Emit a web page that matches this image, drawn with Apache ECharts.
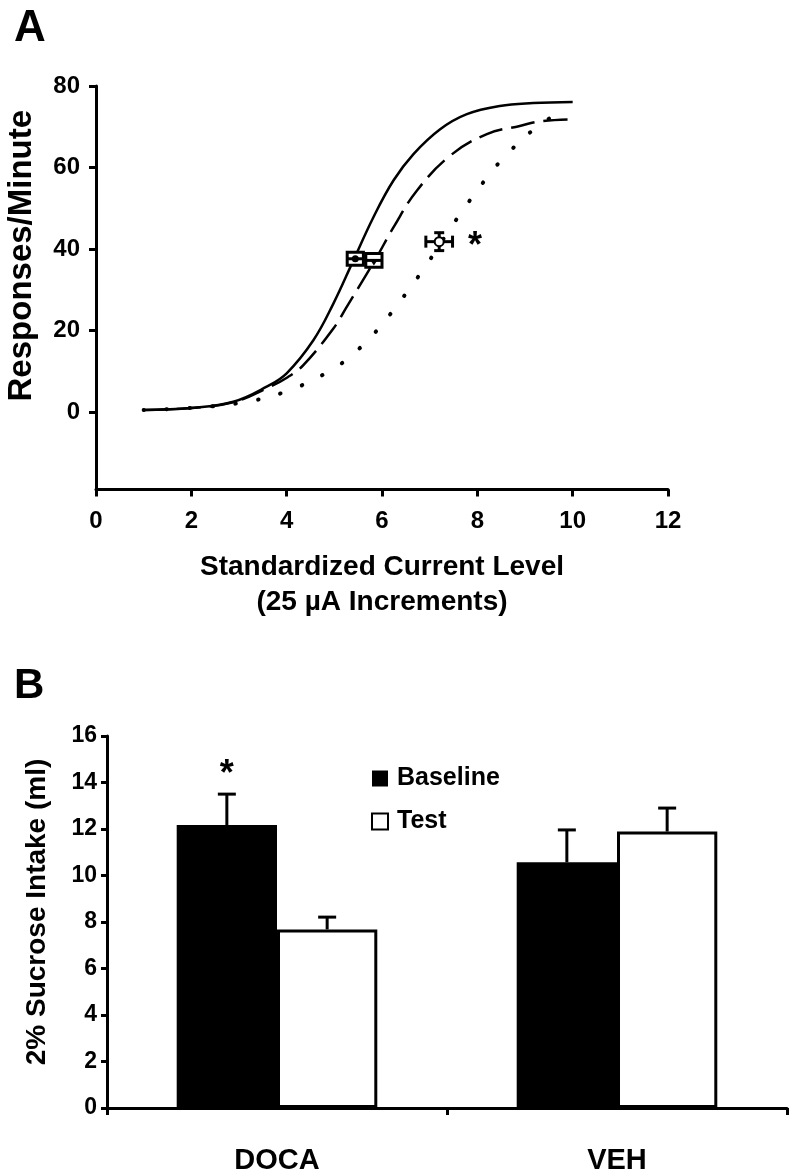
<!DOCTYPE html>
<html><head><meta charset="utf-8">
<script src="https://cdn.jsdelivr.net/npm/echarts@6/dist/echarts.min.js"></script>
<style>html,body{margin:0;padding:0;background:#fff}#c{width:800px;height:1176px}</style>
</head><body><div id="c"></div>
<script>
// ---------- Panel A data ----------
const xTicksA = [0, 2, 4, 6, 8, 10, 12];
const yTicksA = [0, 20, 40, 60, 80];
const solidX = [1, 2, 2.88, 3.58, 4.0, 4.56, 4.98, 5.40, 5.82, 6.24, 6.66, 7.22, 7.78, 8.47, 9.17, 10];
const solidY = [0.5, 1.0, 2.5, 6.2, 9.5, 17.6, 26.6, 37.2, 47.8, 56.8, 63.3, 69.4, 73.1, 75.1, 75.8, 76.1];
const dashX = [1, 2, 2.88, 3.58, 4.03, 4.35, 4.98, 5.26, 5.68, 5.89, 6.24, 6.73, 7.43, 8.20, 8.89, 9.31, 10];
const dashY = [0.5, 1.0, 2.4, 5.8, 8.6, 11.5, 20.5, 25.8, 33.9, 38.0, 45.3, 54.3, 62.9, 68.2, 70.2, 71.3, 71.8];
const dotX = [1, 1.97, 2.95, 3.91, 4.87, 5.36, 5.83, 6.24, 6.59, 6.94, 7.57, 8.28, 8.71, 9.19, 9.68];
const dotY = [0.5, 1.0, 2.1, 4.7, 9.8, 13.9, 19.2, 25.0, 30.5, 36.2, 47.4, 58.7, 64.3, 69.4, 73.3];
const markX = [5.44, 5.83, 7.20];
const markY = [37.6, 37.2, 41.8];
const markXErr = [0.17, 0.17, 0.28];
const markYErr = [1.6, 1.7, 2.2];
const markKind = [0, 1, 2]; // 0 filled circle, 1 filled triangle, 2 open circle
const starAX = [7.95];
const starAY = [40.5];

// ---------- Panel B data ----------
const groups = ['DOCA', 'VEH'];
const baseline = [12.17, 10.57];
const baselineErr = [1.33, 1.39];
const test = [7.68, 11.89];
const testErr = [0.53, 1.01];
const yTicksB = [0, 2, 4, 6, 8, 10, 12, 14, 16];
const starBCat = [0];
const starBY = [14.3];

const FONT = 'Liberation Sans, Arial, sans-serif';
const pairs = (xs, ys) => xs.map((x, i) => [x, ys[i]]);
const BAR_GAP = 0.41;

const chart = echarts.init(document.getElementById('c'), null, {renderer: 'canvas'});
const axisLine = {onZero: false, lineStyle: {color: '#000', width: 3}};

const option = {
  backgroundColor: '#fff',
  animation: false,
  textStyle: {fontFamily: FONT, color: '#000'},
  title: [
    {text: 'A', left: 9, top: 2, textStyle: {fontSize: 44, fontWeight: 'bold', color: '#000', fontFamily: FONT}},
    {text: 'B', left: 9, top: 660, textStyle: {fontSize: 42, fontWeight: 'bold', color: '#000', fontFamily: FONT}}
  ],
  legend: {
    data: ['Baseline', 'Test'],
    orient: 'vertical', left: 366, top: 761,
    itemWidth: 16, itemHeight: 16, itemGap: 18,
    icon: 'rect',
    textStyle: {fontSize: 25, fontWeight: 'bold', color: '#000', fontFamily: FONT, lineHeight: 25, padding: [0, 0, 0, 4]}
  },
  grid: [
    {left: 96, right: 132, top: 86, bottom: 1176 - 489.4, containLabel: false, outerBoundsMode: 'none'},
    {left: 107, right: 13, top: 736, bottom: 68, containLabel: false, outerBoundsMode: 'none'}
  ],
  xAxis: [
    {
      gridIndex: 0, type: 'value', min: 0, max: 12, interval: 2,
      axisLine: axisLine, splitLine: {show: false},
      axisTick: {show: true, length: 7, lineStyle: {width: 3, color: '#000'}},
      axisLabel: {fontSize: 24, fontWeight: 'bold', color: '#000', margin: 20, fontFamily: FONT},
      name: 'Standardized Current Level\n(25 µA Increments)',
      nameLocation: 'middle', nameGap: 60,
      nameTextStyle: {fontSize: 28, fontWeight: 'bold', color: '#000', lineHeight: 35, fontFamily: FONT}
    },
    {
      gridIndex: 1, type: 'category', data: groups,
      axisLine: axisLine,
      axisTick: {show: true, alignWithLabel: false, length: 7, lineStyle: {width: 3, color: '#000'}},
      axisLabel: {fontSize: 29, fontWeight: 'bold', color: '#000', margin: 38, fontFamily: FONT}
    }
  ],
  yAxis: [
    {
      gridIndex: 0, type: 'value', min: -19, max: 80,
      axisLine: {show: true, onZero: false, lineStyle: {color: '#000', width: 3}}, splitLine: {show: false},
      axisTick: {show: true, length: 7, customValues: yTicksA, lineStyle: {width: 3, color: '#000'}},
      axisLabel: {customValues: yTicksA, fontSize: 24, fontWeight: 'bold', color: '#000', margin: 16, fontFamily: FONT},
      name: 'Responses/Minute', nameLocation: 'middle', nameRotate: 90, nameGap: 58,
      nameTextStyle: {fontSize: 33, fontWeight: 'bold', color: '#000', fontFamily: FONT, padding: [0, 0, 0, 64]}
    },
    {
      gridIndex: 1, type: 'value', min: 0, max: 16, interval: 2,
      axisLine: {show: true, onZero: false, lineStyle: {color: '#000', width: 3}}, splitLine: {show: false},
      axisTick: {show: true, length: 6, lineStyle: {width: 3, color: '#000'}},
      axisLabel: {fontSize: 23, fontWeight: 'bold', color: '#000', margin: 10, fontFamily: FONT},
      name: '2% Sucrose Intake (ml)', nameLocation: 'middle', nameRotate: 90, nameGap: 56,
      nameTextStyle: {fontSize: 28, fontWeight: 'bold', color: '#000', fontFamily: FONT, padding: [0, 0, 0, 20]}
    }
  ],
  series: [
    {
      type: 'line', xAxisIndex: 0, yAxisIndex: 0, data: pairs(solidX, solidY),
      showSymbol: false, smooth: 0.4,
      lineStyle: {color: '#000', width: 2.5}
    },
    {
      type: 'line', xAxisIndex: 0, yAxisIndex: 0, data: pairs(dashX, dashY),
      showSymbol: false, smooth: 0.4,
      lineStyle: {color: '#000', width: 2.5, type: [24, 9]}
    },
    {
      type: 'line', xAxisIndex: 0, yAxisIndex: 0, data: pairs(dotX, dotY),
      showSymbol: false, smooth: 0.4,
      lineStyle: {color: '#000', width: 4, type: [0.5, 22.5], cap: 'round'}
    },
    {
      type: 'custom', xAxisIndex: 0, yAxisIndex: 0, z: 10,
      data: markX.map((x, i) => [x, markY[i], markXErr[i], markYErr[i], markKind[i]]),
      renderItem: function (params, api) {
        const x = api.value(0), y = api.value(1), xe = api.value(2), ye = api.value(3), k = api.value(4);
        const c = api.coord([x, y]);
        const l = api.coord([x - xe, y])[0], r = api.coord([x + xe, y])[0];
        const t = api.coord([x, y + ye])[1], b = api.coord([x, y - ye])[1];
        const st = {stroke: '#000', lineWidth: 3, fill: null};
        const ch = [];
        if (k < 2) {
          ch.push({type: 'rect', shape: {x: l, y: t, width: r - l, height: b - t}, style: {stroke: '#000', lineWidth: 3, fill: '#fff'}});
          ch.push({type: 'line', shape: {x1: l, y1: c[1], x2: r, y2: c[1]}, style: st});
          if (k === 0) {
            ch.push({type: 'circle', shape: {cx: c[0], cy: c[1], r: 3.5}, style: {fill: '#000'}});
          } else {
            ch.push({type: 'polygon', shape: {points: [[c[0] - 4, c[1] - 1], [c[0] + 4, c[1] - 1], [c[0], c[1] + 5]]}, style: {fill: '#000'}});
          }
        } else {
          ch.push({type: 'line', shape: {x1: l, y1: c[1], x2: r, y2: c[1]}, style: st});
          ch.push({type: 'line', shape: {x1: l, y1: c[1] - 6, x2: l, y2: c[1] + 6}, style: st});
          ch.push({type: 'line', shape: {x1: r, y1: c[1] - 6, x2: r, y2: c[1] + 6}, style: st});
          ch.push({type: 'line', shape: {x1: c[0], y1: t, x2: c[0], y2: b}, style: st});
          ch.push({type: 'line', shape: {x1: c[0] - 5, y1: t, x2: c[0] + 5, y2: t}, style: st});
          ch.push({type: 'line', shape: {x1: c[0] - 5, y1: b, x2: c[0] + 5, y2: b}, style: st});
          ch.push({type: 'circle', shape: {cx: c[0], cy: c[1], r: 4.5}, style: {fill: '#fff', stroke: '#000', lineWidth: 2}});
        }
        return {type: 'group', children: ch};
      }
    },
    {
      type: 'custom', xAxisIndex: 0, yAxisIndex: 0, z: 10,
      data: pairs(starAX, starAY),
      renderItem: function (params, api) {
        const c = api.coord([api.value(0), api.value(1)]);
        return {type: 'text', x: c[0], y: c[1], style: {text: '*', fontSize: 36, fontWeight: 'bold', fontFamily: FONT, fill: '#000', align: 'center', verticalAlign: 'middle'}};
      }
    },
    {
      name: 'Baseline', type: 'bar', xAxisIndex: 1, yAxisIndex: 1, data: baseline,
      barGap: '0%', barCategoryGap: (BAR_GAP * 100) + '%',
      itemStyle: {color: '#000', borderColor: '#000', borderWidth: 0}
    },
    {
      name: 'Test', type: 'bar', xAxisIndex: 1, yAxisIndex: 1, data: test,
      barGap: '0%', barCategoryGap: (BAR_GAP * 100) + '%',
      itemStyle: {color: '#fff', borderColor: '#000', borderWidth: 3}
    },
    {
      type: 'custom', xAxisIndex: 1, yAxisIndex: 1, z: 10,
      data: groups.map((g, i) => [i, baseline[i], baselineErr[i], 0]).concat(groups.map((g, i) => [i, test[i], testErr[i], 1])),
      encode: {x: 0, y: 1},
      renderItem: function (params, api) {
        const ci = api.value(0), v = api.value(1), e = api.value(2), s = api.value(3);
        const base = api.coord([ci, v]);
        const band = api.size([1, 0])[0];
        const bw = band * (1 - BAR_GAP) / 2;
        const cx = base[0] + (s === 0 ? -bw / 2 : bw / 2);
        const top = api.coord([ci, v + e])[1];
        const st = {stroke: '#000', lineWidth: 3};
        return {type: 'group', children: [
          {type: 'line', shape: {x1: cx, y1: base[1], x2: cx, y2: top}, style: st},
          {type: 'line', shape: {x1: cx - 9, y1: top, x2: cx + 9, y2: top}, style: st}
        ]};
      }
    },
    {
      type: 'custom', xAxisIndex: 1, yAxisIndex: 1, z: 10,
      data: starBCat.map((c, i) => [c, starBY[i]]),
      encode: {x: 0, y: 1},
      renderItem: function (params, api) {
        const c = api.coord([api.value(0), api.value(1)]);
        const band = api.size([1, 0])[0];
        const bw = band * (1 - BAR_GAP) / 2;
        return {type: 'text', x: c[0] - bw / 2, y: c[1], style: {text: '*', fontSize: 36, fontWeight: 'bold', fontFamily: FONT, fill: '#000', align: 'center', verticalAlign: 'middle'}};
      }
    }
  ]
};
chart.setOption(option);
</script></body></html>
